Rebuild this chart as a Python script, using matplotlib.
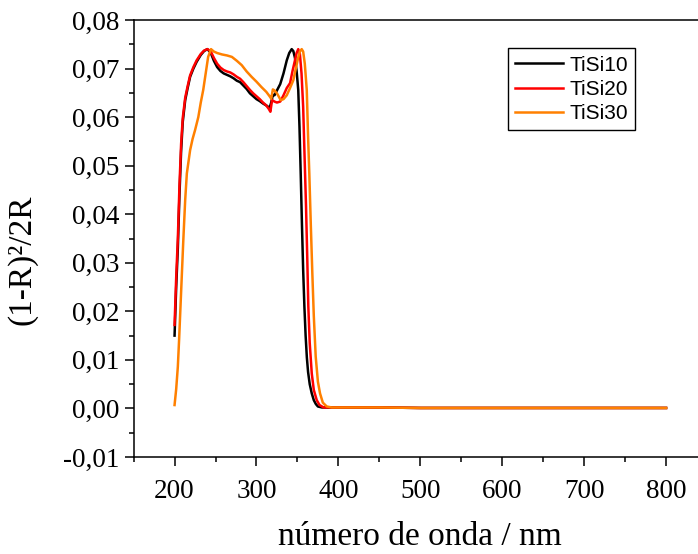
import matplotlib.pyplot as plt
from matplotlib.ticker import FuncFormatter, MultipleLocator

# TiSi10 (black)
x_10 = [200, 202, 204, 206, 208, 210, 213, 216, 219, 223, 227, 232, 236, 240, 244, 248,
        252, 256, 260, 264, 268, 272, 276, 280, 284, 288, 292, 296, 300, 304, 308, 312,
        316, 318, 320, 322, 325, 329, 333, 337, 340, 343, 345, 347, 349, 351, 352.5, 354,
        355.5, 357, 358.5, 360, 361.5, 363, 365, 367.5, 370, 372.5, 375, 380, 390, 400,
        450, 500, 550, 600, 650, 700, 750, 800]
y_10 = [0.0150, 0.0250, 0.0330, 0.0440, 0.0530, 0.0590, 0.0635, 0.0660, 0.0683, 0.0700,
        0.0714, 0.0728, 0.0736, 0.0740, 0.0733, 0.0716, 0.0703, 0.0695, 0.0690, 0.0687,
        0.0684, 0.0680, 0.0675, 0.0672, 0.0665, 0.0658, 0.0649, 0.0643, 0.0637, 0.0633,
        0.0628, 0.0624, 0.0619, 0.0630, 0.0646, 0.0645, 0.0655, 0.0668, 0.0690, 0.0717,
        0.0732, 0.0740, 0.0736, 0.0722, 0.0695, 0.0656, 0.0580, 0.0484, 0.0380, 0.0285,
        0.0210, 0.0150, 0.0105, 0.0075, 0.0050, 0.0031, 0.0017, 0.0009, 0.0004, 0.0002,
        0.0002, 0.0002, 0.0002, 0.0001, 0.0001, 0.0001, 0.0001, 0.0001, 0.0001, 0.0001]

# TiSi20 (red)
x_20 = [200, 202, 204, 206, 208, 210, 213, 216, 219, 223, 227, 232, 236, 240, 244, 248,
        252, 256, 260, 264, 268, 272, 276, 280, 284, 288, 292, 296, 300, 304, 308, 312,
        315, 317, 319, 322, 325, 329, 333, 337, 341, 344, 347, 349, 351, 353, 355, 357,
        358.7, 360.5, 362, 363.3, 365, 367.5, 370, 373.6, 377, 382, 390, 400, 450, 500,
        550, 600, 650, 700, 750, 800]
y_20 = [0.0172, 0.0270, 0.0350, 0.0460, 0.0545, 0.0598, 0.0640, 0.0664, 0.0686, 0.0703,
        0.0717, 0.0730, 0.0737, 0.0740, 0.0736, 0.0722, 0.0710, 0.0702, 0.0697, 0.0694,
        0.0692, 0.0688, 0.0683, 0.0679, 0.0672, 0.0664, 0.0656, 0.0649, 0.0643, 0.0637,
        0.0630, 0.0624, 0.0617, 0.0611, 0.0635, 0.0632, 0.0630, 0.0632, 0.0645, 0.0660,
        0.0670, 0.0695, 0.0717, 0.0732, 0.0740, 0.0730, 0.0690, 0.0621, 0.0520, 0.0416,
        0.0310, 0.0210, 0.0135, 0.0072, 0.0038, 0.0017, 0.0007, 0.0002, 0.0002, 0.0002,
        0.0002, 0.0001, 0.0001, 0.0001, 0.0001, 0.0001, 0.0001, 0.0001]

# TiSi30 (orange)
x_30 = [200, 202, 204, 205.5, 208, 210.7, 213, 215, 219, 222, 225, 229, 232, 235, 238,
        241, 244.5, 248, 252, 258, 264, 270, 276, 282, 288, 294, 300, 306, 312, 316, 318,
        320, 322, 325, 329.6, 333, 337, 341, 345, 348, 351, 353, 355.2, 357, 359, 361.4,
        363, 364.5, 366.3, 368.2, 370, 372.3, 375, 377.6, 381, 385.8, 392, 400, 450, 500,
        550, 600, 650, 700, 750, 800]
y_30 = [0.0007, 0.0040, 0.0086, 0.0140, 0.0240, 0.0347, 0.0430, 0.0484, 0.0532, 0.0555,
        0.0573, 0.0600, 0.0630, 0.0656, 0.0690, 0.0724, 0.0740, 0.0735, 0.0732, 0.0729,
        0.0727, 0.0724, 0.0716, 0.0707, 0.0694, 0.0683, 0.0673, 0.0662, 0.0652, 0.0643,
        0.0638, 0.0657, 0.0655, 0.0649, 0.0635, 0.0637, 0.0645, 0.0660, 0.0676, 0.0700,
        0.0723, 0.0735, 0.0740, 0.0735, 0.0710, 0.0656, 0.0560, 0.0484, 0.0380, 0.0278,
        0.0190, 0.0107, 0.0055, 0.0031, 0.0012, 0.0004, 0.0002, 0.0002, 0.0002, 0.0001,
        0.0001, 0.0001, 0.0001, 0.0001, 0.0001, 0.0001]

labels = ["TiSi10", "TiSi20", "TiSi30"]
colors = ["#000000", "#ff0000", "#ff8000"]

serif = ["Liberation Serif", "DejaVu Serif"]
sans = ["Liberation Sans", "DejaVu Sans"]

fig = plt.figure(figsize=(6.98, 5.54), dpi=100)
ax = fig.add_axes([133.6 / 698, 97 / 554, (707 - 133.6) / 698, 437 / 554])

for xs, ys, lab, col in zip([x_10, x_20, x_30], [y_10, y_20, y_30], labels, colors):
    ax.plot(xs, ys, color=col, lw=1.8, label=lab)

ax.set_xlim(150, 850)
ax.set_ylim(-0.01, 0.08)
ax.xaxis.set_major_locator(MultipleLocator(100))
ax.xaxis.set_minor_locator(MultipleLocator(50))
ax.yaxis.set_major_locator(MultipleLocator(0.01))
ax.yaxis.set_minor_locator(MultipleLocator(0.005))
ax.yaxis.set_major_formatter(FuncFormatter(lambda v, p: f"{v:.2f}".replace(".", ",").replace("-0,00", "0,00")))
ax.tick_params(which="both", direction="out", top=False, right=False, width=1.1)
ax.tick_params(which="major", length=6.5, labelsize=19.5)
ax.tick_params(which="minor", length=3.3)
ax.tick_params(axis="x", which="major", pad=9.5)
ax.tick_params(axis="y", which="major", pad=3.6)
for lbl in ax.get_xticklabels() + ax.get_yticklabels():
    lbl.set_fontfamily(serif)
for s in ax.spines.values():
    s.set_linewidth(1.1)

ax.set_xlabel("número de onda / nm", fontsize=24, family=serif)
ax.set_ylabel("(1-R)²/2R", fontsize=24, family=serif)
ax.xaxis.set_label_coords(0.5, -0.148)
ax.yaxis.set_label_coords(-0.168, 0.451)

leg = ax.legend(loc="upper right", bbox_to_anchor=(0.8744, 0.935), borderaxespad=0,
                fancybox=False, edgecolor="black", framealpha=1, handlelength=2.3,
                labelspacing=0.25, borderpad=0.35, handletextpad=0.3,
                prop={"family": sans, "size": 15})
leg.get_frame().set_linewidth(1.0)

fig.savefig("out.png", dpi=100)
